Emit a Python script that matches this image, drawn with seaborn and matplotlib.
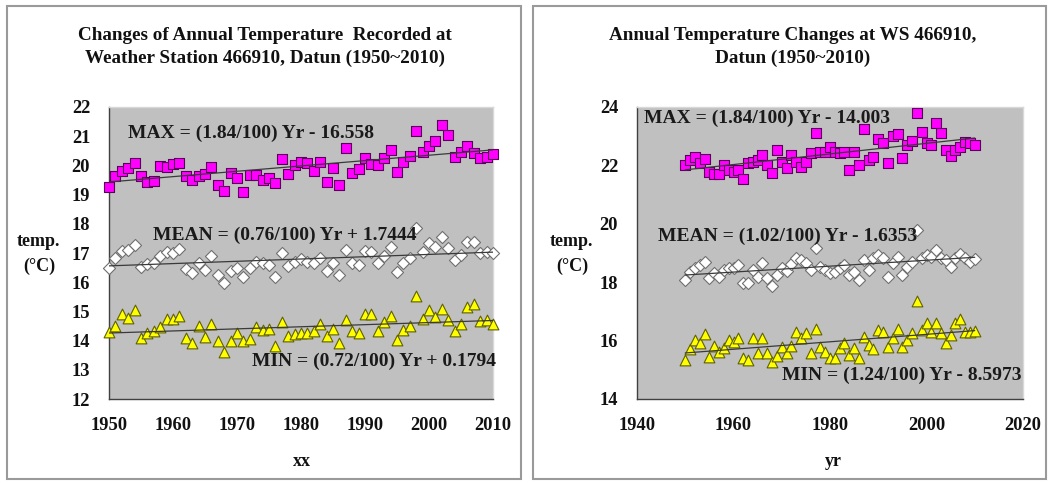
import matplotlib
matplotlib.use("Agg")
import matplotlib.pyplot as plt
import seaborn as sns
import pandas as pd
from matplotlib.patches import Rectangle

# ---------------- data ----------------
years = list(range(1950, 2011))

left_max = [19.27, 19.64, 19.81, 19.90, 20.07, 19.65, 19.44, 19.48, 19.98, 19.93,
            20.05, 20.09, 19.65, 19.50, 19.64, 19.69, 19.93, 19.33, 19.12, 19.73,
            19.56, 19.10, 19.67, 19.67, 19.50, 19.56, 19.39, 20.21, 19.69, 20.01,
            20.13, 20.07, 19.81, 20.13, 19.44, 19.90, 19.33, 20.59, 19.73, 19.87,
            20.26, 20.04, 20.01, 20.24, 20.53, 19.76, 20.10, 20.32, 21.19, 20.47,
            20.66, 20.85, 21.38, 21.04, 20.30, 20.47, 20.66, 20.41, 20.24, 20.30,
            20.39]
left_mean = [16.50, 16.84, 17.08, 17.10, 17.27, 16.53, 16.62, 16.65, 16.91, 17.04,
             17.01, 17.13, 16.44, 16.33, 16.67, 16.42, 16.90, 16.25, 15.96, 16.38,
             16.50, 16.19, 16.50, 16.70, 16.65, 16.59, 16.19, 16.99, 16.56, 16.68,
             16.79, 16.70, 16.65, 16.84, 16.38, 16.65, 16.23, 17.10, 16.65, 16.59,
             17.07, 17.04, 16.65, 16.90, 17.20, 16.34, 16.65, 16.82, 17.87, 17.02,
             17.33, 17.20, 17.56, 17.16, 16.76, 16.93, 17.39, 17.39, 16.99, 17.04,
             16.99]
left_min = [14.31, 14.50, 14.91, 14.76, 15.05, 14.10, 14.27, 14.33, 14.48, 14.74,
            14.74, 14.84, 14.10, 13.93, 14.51, 14.11, 14.56, 13.99, 13.62, 13.99,
            14.25, 13.99, 14.04, 14.48, 14.36, 14.40, 13.82, 14.62, 14.16, 14.23,
            14.25, 14.27, 14.34, 14.56, 14.16, 14.39, 13.91, 14.70, 14.34, 14.25,
            14.90, 14.90, 14.34, 14.62, 14.84, 14.02, 14.36, 14.50, 15.53, 14.73,
            15.05, 14.80, 15.07, 14.70, 14.33, 14.56, 15.14, 15.24, 14.67, 14.70,
            14.56]

right_max = [22.01, 22.18, 22.28, 22.07, 22.21, 21.79, 21.71, 21.71, 22.01, 21.84,
             21.79, 21.84, 21.52, 22.09, 22.13, 22.18, 22.36, 22.01, 21.75, 22.53,
             22.13, 21.90, 22.36, 22.13, 21.96, 22.13, 22.41, 23.10, 22.47, 22.47,
             22.64, 22.47, 22.41, 22.47, 21.84, 22.47, 22.01, 23.24, 22.18, 22.30,
             22.89, 22.78, 22.07, 23.01, 23.08, 22.24, 22.70, 22.85, 23.78, 23.16,
             22.76, 22.70, 23.44, 23.10, 22.53, 22.32, 22.53, 22.64, 22.81, 22.76,
             22.70]
right_mean = [18.08, 18.36, 18.47, 18.59, 18.70, 18.13, 18.30, 18.19, 18.42, 18.47,
              18.50, 18.59, 17.96, 17.96, 18.42, 18.19, 18.65, 18.16, 17.88, 18.25,
              18.47, 18.38, 18.61, 18.82, 18.76, 18.65, 18.42, 19.16, 18.53, 18.42,
              18.30, 18.34, 18.47, 18.59, 18.25, 18.36, 18.08, 18.76, 18.42, 18.82,
              18.93, 18.82, 18.19, 18.65, 18.87, 18.25, 18.53, 18.70, 19.79, 18.82,
              18.93, 18.87, 19.10, 18.82, 18.76, 18.53, 18.82, 18.95, 18.82, 18.70,
              18.78]
right_min = [15.34, 15.70, 16.02, 15.93, 16.21, 15.45, 15.82, 15.62, 15.74, 16.02,
             15.96, 16.08, 15.39, 15.34, 16.08, 15.59, 16.08, 15.59, 15.28, 15.47,
             15.79, 15.59, 15.82, 16.31, 16.08, 16.25, 15.56, 16.39, 15.79, 15.62,
             15.39, 15.39, 15.74, 15.91, 15.51, 15.74, 15.39, 16.13, 15.85, 15.70,
             16.36, 16.31, 15.79, 16.08, 16.39, 15.79, 16.02, 16.25, 17.37, 16.36,
             16.59, 16.31, 16.59, 16.25, 15.91, 16.19, 16.59, 16.73, 16.31, 16.31,
             16.34]

left_title = ["Changes of Annual Temperature  Recorded at",
              "Weather Station 466910, Datun (1950~2010)"]
right_title = ["Annual Temperature Changes at WS 466910,",
               "Datun (1950~2010)"]
left_eqs = ["MAX = (1.84/100) Yr - 16.558",
            "MEAN = (0.76/100) Yr + 1.7444",
            "MIN = (0.72/100) Yr + 0.1794"]
right_eqs = ["MAX = (1.84/100) Yr - 14.003",
             "MEAN = (1.02/100) Yr - 1.6353",
             "MIN = (1.24/100) Yr - 8.5973"]
left_xticks = [1950, 1960, 1970, 1980, 1990, 2000, 2010]
right_xticks = [1940, 1960, 1980, 2000, 2020]
left_yticks = [12, 13, 14, 15, 16, 17, 18, 19, 20, 21, 22]
right_yticks = [14, 16, 18, 20, 22, 24]

# ---------------- style ----------------
sns.set_style("white")
plt.rcParams['font.family'] = ['Liberation Serif', 'DejaVu Serif']
plt.rcParams['font.weight'] = 'bold'

W, H = 1049, 483
fig = plt.figure(figsize=(W / 100, H / 100), dpi=100)


def fx(x):
    return x / W


def fy(y):
    return 1 - y / H


# panel frames
for x0, x1 in [(7, 521), (533, 1046)]:
    fig.patches.append(Rectangle((fx(x0), fy(479)), fx(x1) - fx(x0), fy(6) - fy(479),
                                 transform=fig.transFigure, fill=False,
                                 edgecolor='#9a9a9a', lw=1.5))

ax1 = fig.add_axes([fx(109), fy(399), (493 - 109) / W, (399 - 107) / H])
ax2 = fig.add_axes([fx(637), fy(399), (1023 - 637) / W, (399 - 107) / H])

series_style = [
    ('MAX', 's', '#ff00ff', '#5a005a', 52),
    ('MEAN', 'D', '#ffffff', '#707070', 38),
    ('MIN', '^', '#ffff00', '#606000', 60),
]


def panel(ax, mx, me, mi, xlim, xticks, ylim, yticks, eqs, eq_pos):
    df = pd.DataFrame({'yr': years, 'MAX': mx, 'MEAN': me, 'MIN': mi})
    ax.set_facecolor('#c0c0c0')
    for col, marker, fc, ec, s in series_style:
        sns.scatterplot(data=df, x='yr', y=col, marker=marker, color=fc,
                        edgecolor=ec, s=s, linewidth=0.8, ax=ax, zorder=3,
                        legend=False, clip_on=False)
        sns.regplot(data=df, x='yr', y=col, scatter=False, ci=None, ax=ax,
                    line_kws=dict(color='#3a3a3a', lw=0.9, zorder=4))
    ax.set_xlim(*xlim)
    ax.set_ylim(*ylim)
    ax.set_xticks(xticks)
    ax.set_yticks(yticks)
    ax.set_xlabel('')
    ax.set_ylabel('')
    ax.tick_params(axis='both', direction='in', length=4, width=1,
                   color='#404040', labelsize=13.3, labelcolor='#111111')
    ax.tick_params(axis='y', pad=13.5)
    ax.tick_params(axis='x', pad=13)
    for lab in ax.get_xticklabels() + ax.get_yticklabels():
        lab.set_fontweight('bold')
    for side in ['left', 'bottom']:
        ax.spines[side].set_color('#404040')
        ax.spines[side].set_linewidth(1.0)
    for side in ['top', 'right']:
        ax.spines[side].set_color('#d8d8d8')
        ax.spines[side].set_linewidth(1.0)
    for txt, (x, y) in zip(eqs, eq_pos):
        ax.text(x, y, txt, ha='left', va='center', fontsize=14,
                fontweight='bold', color='#1a1a1a', zorder=5)


panel(ax1, left_max, left_mean, left_min, (1950, 2010), left_xticks,
      (12, 22), left_yticks, left_eqs,
      [(1952.9, 21.11), (1956.8, 17.62), (1972.4, 13.28)])
panel(ax2, right_max, right_mean, right_min, (1940, 2020), right_xticks,
      (14, 24), right_yticks, right_eqs,
      [(1941.4, 23.62), (1944.3, 19.56), (1970.0, 14.82)])

# titles
for i, line in enumerate(left_title):
    fig.text(fx(265), fy(35 + 23 * i), line, ha='center', va='center',
             fontsize=13.8, fontweight='bold', color='#111111')
for i, line in enumerate(right_title):
    fig.text(fx(793), fy(35 + 23 * i), line, ha='center', va='center',
             fontsize=13.8, fontweight='bold', color='#111111')

# axis labels
for cx in (38, 571):
    fig.text(fx(cx), fy(242), 'temp.', ha='center', va='center',
             fontsize=13, fontweight='bold', color='#111111')
    fig.text(fx(cx + 1), fy(266), '(\u00b0C)', ha='center', va='center',
             fontsize=13, fontweight='bold', color='#111111')
fig.text(fx(302), fy(461), 'xx', ha='center', va='center',
         fontsize=13, fontweight='bold', color='#111111')
fig.text(fx(833), fy(461), 'yr', ha='center', va='center',
         fontsize=13, fontweight='bold', color='#111111')

fig.savefig('out.png', dpi=100, facecolor='white')
